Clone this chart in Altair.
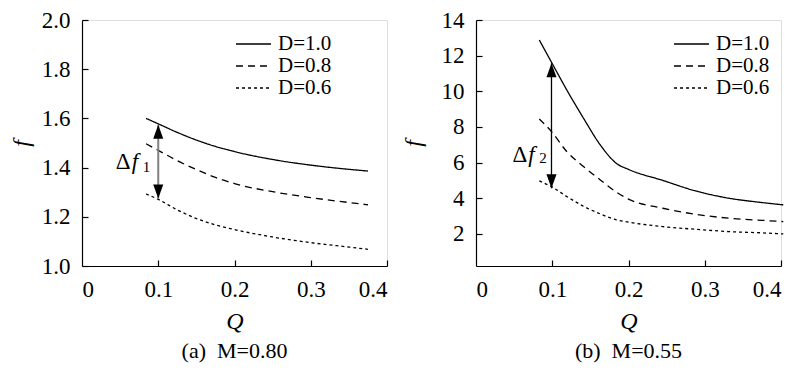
import altair as alt
import pandas as pd

FONT = "Liberation Serif"

series = ["D=1.0", "D=0.8", "D=0.6"]
dashes = [[1, 0], [7, 5], [3, 3]]

# Panel (a): M = 0.80
qa = [0.084, 0.1, 0.125, 0.15, 0.175, 0.2, 0.25, 0.3, 0.35, 0.375]
fa_10 = [1.600, 1.578, 1.543, 1.512, 1.486, 1.465, 1.433, 1.410, 1.393, 1.386]
fa_08 = [1.497, 1.470, 1.428, 1.392, 1.360, 1.335, 1.302, 1.278, 1.258, 1.249]
fa_06 = [1.293, 1.271, 1.228, 1.193, 1.167, 1.148, 1.118, 1.095, 1.077, 1.068]

# Panel (b): M = 0.55
qb = [0.083, 0.099, 0.119, 0.141, 0.163, 0.184, 0.2, 0.245, 0.288, 0.332, 0.375, 0.403]
fb_10 = [12.88, 11.63, 10.08, 8.49, 6.99, 5.96, 5.62, 5.00, 4.41, 4.00, 3.76, 3.63]
fb_08 = [8.45, 7.74, 6.62, 5.78, 5.03, 4.35, 3.95, 3.44, 3.10, 2.88, 2.76, 2.69]
fb_06 = [4.97, 4.65, 4.10, 3.55, 3.12, 2.79, 2.66, 2.41, 2.26, 2.13, 2.06, 2.00]

# Arrows (Delta f) and their labels
arrow_a = {"Q": [0.1], "top": [1.574], "bot": [1.274]}
arrow_b = {"Q": [0.099], "top": [11.57], "bot": [4.56]}
label_a = {"Q": [0.1], "f": [1.421]}
label_b = {"Q": [0.099], "f": [6.43]}

xticks = [0, 0.1, 0.2, 0.3, 0.4]
xticks_in = [0.1, 0.2, 0.3, 0.4]
yticks_a = [1.0, 1.2, 1.4, 1.6, 1.8, 2.0]
yticks_b = [2, 4, 6, 8, 10, 12, 14]

captions = ["(a)\u00a0\u00a0M=0.80", "(b)\u00a0\u00a0M=0.55"]


def long(q, ys):
    rows = []
    for s, y in zip(series, ys):
        for qq, yy in zip(q, y):
            rows.append({"Q": qq, "f": yy, "D": s})
    return pd.DataFrame(rows)


def panel(df, ydom, yvals, yfmt, ytitle_pad, arrow, label, sub, lab_off, sub_dy,
          shaft_color, shaft_w, legend_x, caption):
    xs = alt.Scale(domain=[0, 0.4], nice=False, zero=False)
    ys = alt.Scale(domain=ydom, nice=False, zero=False)
    xaxis = alt.Axis(values=xticks,
                     labelExpr="datum.value === 0 ? '0' : format(datum.value, '.1f')",
                     ticks=False, grid=False, domainColor="black", domainWidth=1.2,
                     labelFont=FONT, labelFontSize=23, labelColor="black",
                     labelPadding=12, title="Q", titleFont=FONT, titleFontSize=24,
                     titleFontStyle="italic", titleFontWeight="normal",
                     titleColor="black", titlePadding=8)
    yaxis = alt.Axis(values=yvals, format=yfmt, ticks=False, grid=False,
                     domainColor="black", domainWidth=1.2,
                     labelFont=FONT, labelFontSize=23, labelColor="black",
                     labelPadding=12, title="f", titleFont=FONT, titleFontSize=24,
                     titleFontStyle="italic", titleFontWeight="normal",
                     titleColor="black", titlePadding=ytitle_pad)
    lines = alt.Chart(df).mark_line(color="black", strokeWidth=1.3,
                                    interpolate="monotone").encode(
        x=alt.X("Q:Q", scale=xs, axis=xaxis),
        y=alt.Y("f:Q", scale=ys, axis=yaxis),
        strokeDash=alt.StrokeDash(
            "D:N", sort=series,
            scale=alt.Scale(domain=series, range=dashes),
            legend=alt.Legend(title=None, orient="none", legendX=legend_x,
                              legendY=13, symbolType="stroke", symbolSize=1225,
                              symbolStrokeWidth=1.3, symbolStrokeColor="black",
                              clipHeight=22,
                              labelFont=FONT, labelFontSize=21, labelColor="black",
                              labelOffset=6, rowPadding=0)),
    )
    tick_layer = alt.Chart(df).mark_point(opacity=0).encode(
        x=alt.X("Q:Q", scale=xs,
                axis=alt.Axis(values=xticks_in, labels=False, domain=False,
                              grid=False, ticks=True, tickSize=6, offset=-6,
                              tickColor="black", tickWidth=1.2,
                              orient="bottom", title=None)),
        y=alt.Y("f:Q", scale=ys,
                axis=alt.Axis(values=yvals, labels=False, domain=False,
                              grid=False, ticks=True, tickSize=6, offset=-6,
                              tickColor="black", tickWidth=1.2,
                              orient="left", title=None)),
    )
    adf = pd.DataFrame(arrow)
    shaft = alt.Chart(adf).mark_rule(color=shaft_color, strokeWidth=shaft_w).encode(
        x=alt.X("Q:Q", axis=None), y=alt.Y("top:Q", axis=None), y2="bot:Q")
    head_up = alt.Chart(adf).mark_point(
        shape="M0,0 L-0.36,1 L0.36,1 Z", size=784, filled=True,
        color="black", opacity=1).encode(
        x=alt.X("Q:Q", axis=None), y=alt.Y("top:Q", axis=None))
    head_dn = alt.Chart(adf).mark_point(
        shape="M0,0 L-0.36,-1 L0.36,-1 Z", size=784, filled=True,
        color="black", opacity=1).encode(
        x=alt.X("Q:Q", axis=None), y=alt.Y("bot:Q", axis=None))
    ldf = pd.DataFrame(label)
    t_delta = alt.Chart(ldf).mark_text(
        text="Δ", font=FONT, fontSize=23, align="right", baseline="middle",
        dx=lab_off, color="black").encode(
        x=alt.X("Q:Q", axis=None), y=alt.Y("f:Q", axis=None))
    t_f = alt.Chart(ldf).mark_text(
        text="f", font=FONT, fontSize=23, fontStyle="italic", align="left",
        baseline="middle", dx=lab_off + 1, color="black").encode(
        x=alt.X("Q:Q", axis=None), y=alt.Y("f:Q", axis=None))
    t_sub = alt.Chart(ldf).mark_text(
        text=sub, font=FONT, fontSize=15, align="left", baseline="middle",
        dx=lab_off + 12, dy=sub_dy, color="black").encode(
        x=alt.X("Q:Q", axis=None), y=alt.Y("f:Q", axis=None))
    return alt.layer(lines, tick_layer, shaft, head_up, head_dn,
                     t_delta, t_f, t_sub).resolve_axis(
        x="independent", y="independent").properties(
        width=305, height=246,
        title=alt.TitleParams(caption, orient="bottom", font=FONT, fontSize=22,
                              fontWeight="normal", color="black",
                              anchor="middle", frame="group", offset=8))


pa = panel(long(qa, [fa_10, fa_08, fa_06]), [1.0, 2.0], yticks_a, ".1f", 8,
           arrow_a, label_a, "1", -27.6, 5, "#808080", 2, 153, captions[0])
pb = panel(long(qb, [fb_10, fb_08, fb_06]), [0.2, 14], yticks_b, "d", 16,
           arrow_b, label_b, "2", -24.3, 3, "black", 1.3, 197, captions[1])

chart = alt.hconcat(pa, pb, spacing=89, bounds="flush").resolve_scale(
    x="independent", y="independent", strokeDash="independent").resolve_legend(
    strokeDash="independent").properties(
    padding={"left": 0, "top": 0, "right": 0, "bottom": 0}).configure_view(
    stroke=None).configure(background="white", font=FONT).configure_axis(
    labelFont=FONT, titleFont=FONT).configure_legend(
    labelFont=FONT).configure_text(font=FONT)

chart.save("out.html", embed_options={"renderer": "svg", "actions": False})
